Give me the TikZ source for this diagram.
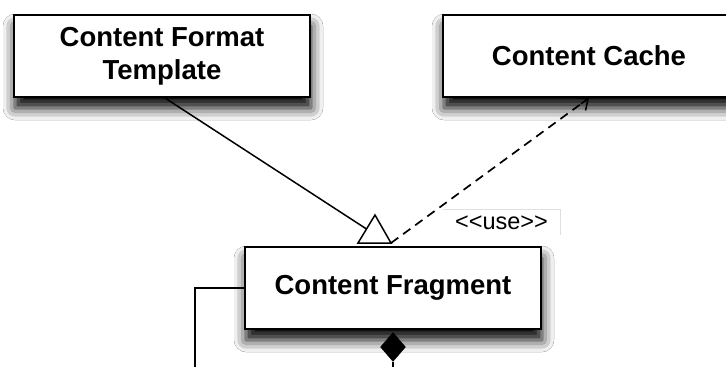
\documentclass[tikz,border=0pt]{standalone}
\usepackage{fontspec}
\setmainfont{Liberation Sans}
\usetikzlibrary{shapes.geometric,arrows.meta,shadows.blur}
\tikzset{
  classbox/.style={draw=black, line width=2pt, fill=white, inner sep=0pt,
    minimum width=296pt, minimum height=82pt, align=center,
    font=\bfseries\fontsize{27.5}{33}\selectfont,
    blur shadow={shadow xshift=1pt, shadow yshift=-11pt, shadow blur radius=12pt, shadow opacity=100}},
  conn/.style={line width=1.5pt, draw=black},
  uselabel/.style={inner sep=0pt, minimum width=117pt, minimum height=25pt,
    font=\fontsize{23.5}{27}\selectfont},
}
\begin{document}
\begin{tikzpicture}[x=1pt,y=-1pt]
\useasboundingbox (0,0) rectangle (726,367);
\clip (0,0) rectangle (726,367);
\fill[white] (0,0) rectangle (726,367);

\node[classbox] (cft) at (162,56) {Content Format\\Template};
\node[classbox, minimum width=292pt] (cache) at (589,56) {Content Cache};
\node[classbox] (frag) at (393,288) {Content Fragment};

% generalization triangle
\coordinate (tA) at (375,215);
\coordinate (tL) at (358,243);
\coordinate (tR) at (391,243);
\draw[conn, fill=white] (tL) -- (tA) -- (tR) -- cycle;
\coordinate (tM) at ($(tL)!0.5!(tA)$);
\draw[conn] ([xshift=3pt]cft.south) -- (tM);

% use dependency
\draw[conn, line width=1.7pt, dash pattern=on 9pt off 6pt] (tR) -- (cache.south);
\draw[conn, -{Straight Barb[length=9pt,width=16pt]}] ($(tR)!0.96!(cache.south)$) -- (cache.south);
\node[uselabel] (use) at (501.5,222.5) {\textless\kern0pt\textless\kern0pt use\kern0pt\textgreater\kern0pt\textgreater};
\draw[gray!25, line width=0.8pt] (use.north west) -- (use.north east) -- (use.south east);

% composition diamond
\node[diamond, fill=black, draw=black, inner sep=0pt, minimum width=25pt, minimum height=29pt] (dia) at (393,347) {};
\coordinate (lbot) at (195,375);
\draw[conn] (dia.south) -- (dia.south |- lbot);
\draw[conn] (frag.west) -| (lbot);
\end{tikzpicture}
\end{document}
